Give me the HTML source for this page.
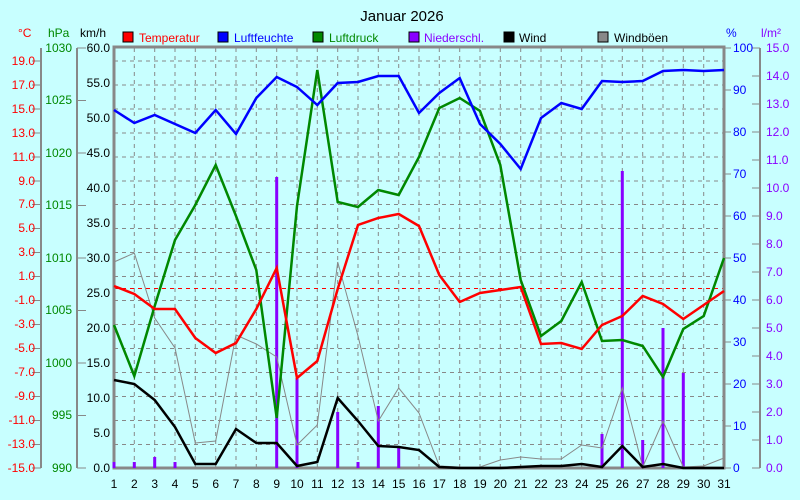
<!DOCTYPE html>
<html><head><meta charset="utf-8"><style>
html,body{margin:0;padding:0;background:#c8ffff;}
svg{display:block;font-family:"Liberation Sans",sans-serif;}
</style></head><body>
<svg width="800" height="500" xmlns="http://www.w3.org/2000/svg">
<rect width="800" height="500" fill="#c8ffff"/>
<text x="402" y="21" font-size="15" text-anchor="middle" fill="#000">Januar 2026</text>
<g font-size="12">
<rect x="123" y="32" width="10" height="10" fill="#f00" stroke="#000"/><text x="139" y="42" fill="#f00">Temperatur</text>
<rect x="218" y="32" width="10" height="10" fill="#00f" stroke="#000"/><text x="234" y="42" fill="#00f">Luftfeuchte</text>
<rect x="313" y="32" width="10" height="10" fill="#080" stroke="#000"/><text x="329" y="42" fill="#080">Luftdruck</text>
<rect x="409" y="32" width="10" height="10" fill="#80f" stroke="#000"/><text x="424" y="42" fill="#80f">Niederschl.</text>
<rect x="504" y="32" width="10" height="10" fill="#000" stroke="#000"/><text x="519" y="42" fill="#000">Wind</text>
<rect x="598" y="32" width="10" height="10" fill="#888" stroke="#000"/><text x="614" y="42" fill="#000">Windböen</text>
<text x="18" y="37" fill="#f00">°C</text>
<text x="48" y="37" fill="#080">hPa</text>
<text x="80" y="37" fill="#000">km/h</text>
<text x="726" y="37" fill="#00f">%</text>
<text x="761" y="37" fill="#80f">l/m²</text>
</g>
<!-- grid -->
<g stroke="#888" stroke-dasharray="4,4" stroke-width="1">
<path id="vg" d="M134.3 48V468M154.7 48V468M175 48V468M195.3 48V468M215.7 48V468M236 48V468M256.3 48V468M276.7 48V468M297 48V468M317.3 48V468M337.7 48V468M358 48V468M378.3 48V468M398.7 48V468M419 48V468M439.3 48V468M459.7 48V468M480 48V468M500.3 48V468M520.7 48V468M541 48V468M561.3 48V468M581.7 48V468M602 48V468M622.3 48V468M642.7 48V468M663 48V468M683.3 48V468M703.7 48V468"/>
<path d="M114 61H724M114 85H724M114 109H724M114 133H724M114 157H724M114 181H724M114 204.5H724M114 228.5H724M114 252.5H724M114 276.5H724M114 300.5H724M114 324.5H724M114 348.5H724M114 372.5H724M114 396.5H724M114 420.5H724M114 444.5H724"/>
</g>
<path d="M114 288.5H724" stroke="#f00" stroke-dasharray="4,4"/>
<!-- axes -->
<g stroke="#888" fill="none">
<rect x="114" y="47" width="610" height="421" stroke-width="3"/>
<path d="M41 48V468M77 48V468M760 48V468" stroke-width="2"/>
<path d="M32 61H41M32 85H41M32 109H41M32 133H41M32 157H41M32 181H41M32 204.5H41M32 228.5H41M32 252.5H41M32 276.5H41M32 300.5H41M32 324.5H41M32 348.5H41M32 372.5H41M32 396.5H41M32 420.5H41M32 444.5H41M32 468H41"/>
<path d="M77 48H86M77 100.5H86M77 153H86M77 205.5H86M77 258H86M77 310.5H86M77 363H86M77 415.5H86M77 468H86"/>
<path d="M752 48H760M752 76H760M752 104H760M752 132H760M752 160H760M752 188H760M752 216H760M752 244H760M752 272H760M752 300H760M752 328H760M752 356H760M752 384H760M752 412H760M752 440H760M752 468H760"/>
<path d="M724 48H731M724 90H731M724 132H731M724 174H731M724 216H731M724 258H731M724 300H731M724 342H731M724 384H731M724 426H731M724 468H731"/>
</g>
<g font-size="12">
<g fill="#f00" text-anchor="end">
<text x="35" y="65">19.0</text><text x="35" y="89">17.0</text><text x="35" y="113">15.0</text><text x="35" y="137">13.0</text><text x="35" y="161">11.0</text><text x="35" y="185">9.0</text><text x="35" y="208">7.0</text><text x="35" y="232">5.0</text><text x="35" y="256">3.0</text><text x="35" y="280">1.0</text><text x="35" y="304">-1.0</text><text x="35" y="328">-3.0</text><text x="35" y="352">-5.0</text><text x="35" y="376">-7.0</text><text x="35" y="400">-9.0</text><text x="35" y="424">-11.0</text><text x="35" y="448">-13.0</text><text x="35" y="472">-15.0</text>
</g>
<g fill="#080" text-anchor="end">
<text x="72" y="52">1030</text><text x="72" y="104">1025</text><text x="72" y="157">1020</text><text x="72" y="209">1015</text><text x="72" y="262">1010</text><text x="72" y="314">1005</text><text x="72" y="367">1000</text><text x="72" y="419">995</text><text x="72" y="472">990</text>
</g>
<g fill="#000" text-anchor="end">
<text x="110" y="52">60.0</text><text x="110" y="87">55.0</text><text x="110" y="122">50.0</text><text x="110" y="157">45.0</text><text x="110" y="192">40.0</text><text x="110" y="227">35.0</text><text x="110" y="262">30.0</text><text x="110" y="297">25.0</text><text x="110" y="332">20.0</text><text x="110" y="367">15.0</text><text x="110" y="402">10.0</text><text x="110" y="437">5.0</text><text x="110" y="472">0.0</text>
</g>
<g fill="#00f">
<text x="733" y="52">100</text><text x="733" y="94">90</text><text x="733" y="136">80</text><text x="733" y="178">70</text><text x="733" y="220">60</text><text x="733" y="262">50</text><text x="733" y="304">40</text><text x="733" y="346">30</text><text x="733" y="388">20</text><text x="733" y="430">10</text><text x="733" y="472">0</text>
</g>
<g fill="#80f">
<text x="766" y="52">15.0</text><text x="766" y="80">14.0</text><text x="766" y="108">13.0</text><text x="766" y="136">12.0</text><text x="766" y="164">11.0</text><text x="766" y="192">10.0</text><text x="766" y="220">9.0</text><text x="766" y="248">8.0</text><text x="766" y="276">7.0</text><text x="766" y="304">6.0</text><text x="766" y="332">5.0</text><text x="766" y="360">4.0</text><text x="766" y="388">3.0</text><text x="766" y="416">2.0</text><text x="766" y="444">1.0</text><text x="766" y="472">0.0</text>
</g>
<g fill="#000" text-anchor="middle">
<text x="114" y="488">1</text><text x="134.3" y="488">2</text><text x="154.7" y="488">3</text><text x="175" y="488">4</text><text x="195.3" y="488">5</text><text x="215.7" y="488">6</text><text x="236" y="488">7</text><text x="256.3" y="488">8</text><text x="276.7" y="488">9</text><text x="297" y="488">10</text><text x="317.3" y="488">11</text><text x="337.7" y="488">12</text><text x="358" y="488">13</text><text x="378.3" y="488">14</text><text x="398.7" y="488">15</text><text x="419" y="488">16</text><text x="439.3" y="488">17</text><text x="459.7" y="488">18</text><text x="480" y="488">19</text><text x="500.3" y="488">20</text><text x="520.7" y="488">21</text><text x="541" y="488">22</text><text x="561.3" y="488">23</text><text x="581.7" y="488">24</text><text x="602" y="488">25</text><text x="622.3" y="488">26</text><text x="642.7" y="488">27</text><text x="663" y="488">28</text><text x="683.3" y="488">29</text><text x="703.7" y="488">30</text><text x="724" y="488">31</text>
</g>
</g>
<!-- precip -->
<g stroke="#80f" stroke-width="3">
<path d="M114 462V468M134.3 462V468M154.7 457V468M175 462V468M276.7 177V468M297 378V468M337.7 412V468M358 462V468M378.3 406V468M398.7 447V468M602 434V468M622.3 171V468M642.7 440V468M663 328V468M683.3 373V468"/>
</g>
<!-- gusts -->
<polyline fill="none" stroke="#888" stroke-width="1" points="114,262 134.3,253 154.7,318 175,348 195.3,443 215.7,441 236,335 256.3,344 276.7,357 297,445 317.3,425 337.7,262 358,336 378.3,421 398.7,388 419,413 439.3,466 459.7,467 480,467 500.3,460 520.7,457 541,459 561.3,459 581.7,445 602,448 622.3,388 642.7,467 663,421 683.3,467 703.7,466 724,458"/>
<!-- wind -->
<polyline fill="none" stroke="#000" stroke-width="2.5" points="114,380 134.3,384 154.7,400 175,427 195.3,464 215.7,464 236,429 256.3,443 276.7,443 297,466 317.3,462 337.7,398 358,421 378.3,446 398.7,447 419,450 439.3,467 459.7,468 480,468 500.3,468 520.7,467 541,466 561.3,466 581.7,464 602,467 622.3,446 642.7,467 663,464 683.3,468 703.7,468 724,468"/>
<!-- pressure -->
<polyline fill="none" stroke="#080" stroke-width="2.5" points="114,325 134.3,376 154.7,306 175,240 195.3,205 215.7,165 236,216 256.3,270 276.7,418 297,206 317.3,70 337.7,202 358,207 378.3,190 398.7,195 419,157 439.3,108 459.7,98 480,111 500.3,165 520.7,280 541,336 561.3,321 581.7,282 602,341 622.3,340 642.7,346 663,377 683.3,329 703.7,316 724,258"/>
<!-- humidity -->
<polyline fill="none" stroke="#00f" stroke-width="2.5" points="114,110 134.3,123 154.7,115 175,124 195.3,133 215.7,110 236,134 256.3,98 276.7,77 297,87 317.3,105 337.7,83 358,82 378.3,76 398.7,76 419,113 439.3,93 459.7,78 480,124 500.3,144 520.7,169 541,118 561.3,103 581.7,109 602,81 622.3,82 642.7,81 663,71 683.3,70 703.7,71 724,70"/>
<!-- temperature -->
<polyline fill="none" stroke="#f00" stroke-width="2.5" points="114,286 134.3,294 154.7,309 175,309 195.3,338 215.7,353 236,343 256.3,309 276.7,268 297,378 317.3,361 337.7,289 358,225 378.3,218 398.7,214 419,226 439.3,275 459.7,302 480,293 500.3,290 520.7,287 541,344 561.3,343 581.7,349 602,325 622.3,316 642.7,296 663,304 683.3,319 703.7,305 724,291"/>
</svg>
</body></html>
